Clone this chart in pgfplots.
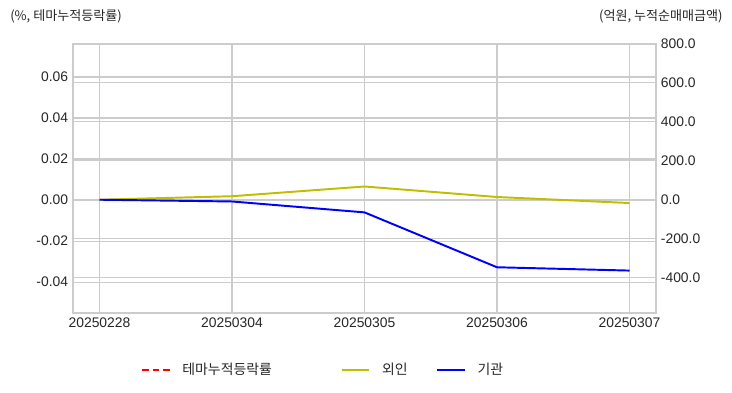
\documentclass[border=0pt]{standalone}
\usepackage{pgfplots}
\pgfplotsset{compat=1.18}
\usepackage{fontspec}
\setmainfont{Liberation Sans}
\newfontfamily\kr{Noto Sans CJK KR}
\definecolor{olivey}{RGB}{191,191,0}
\definecolor{gridc}{RGB}{204,204,204}
\definecolor{txt}{RGB}{38,38,38}
\begin{document}
\begin{tikzpicture}
\path[use as bounding box] (0pt,0pt) rectangle (527.04pt,282.24pt);
\pgfplotsset{
  base/.style={
    at={(52.56pt,56.88pt)}, anchor=south west,
    scale only axis, width=419.76pt, height=193.68pt,
    xmin=-0.2, xmax=4.2,
    axis line style={gridc, line width=1.2pt},
    major grid style={gridc, line width=0.75pt},
    tick style={draw=none},
    ticklabel style={font=\fontsize{10}{12}\selectfont, text=txt},
    /pgf/number format/assume math mode=true,
    scaled y ticks=false,
  }
}
\begin{axis}[base,
  ymin=-0.0551, ymax=0.0761,
  ytick={-0.04,-0.02,0,0.02,0.04,0.06},
  yticklabel style={/pgf/number format/.cd, fixed, fixed zerofill, precision=2},
  xtick={0,1,2,3,4},
  xticklabels={20250228,20250304,20250305,20250306,20250307},
  xmajorgrids, ymajorgrids,
  legend columns=3,
  legend style={draw=none, fill=none, at={(0.43,-0.212)}, anchor=center,
    font=\kr\fontsize{10}{12}\selectfont, text=txt,
    /tikz/column 1/.style={column sep=6.5pt},
    /tikz/column 3/.style={column sep=6.5pt},
    /tikz/column 5/.style={column sep=6.5pt},
    /tikz/column 2/.style={column sep=47.5pt},
    /tikz/column 4/.style={column sep=18.5pt}},
  legend image code/.code={\draw[#1] (0pt,0pt) -- (20pt,0pt);},
]
\addlegendimage{red, dash pattern=on 5pt off 2.5pt, line width=1.1pt}
\addlegendentry{테마누적등락률}
\addlegendimage{olivey, line width=1.4pt}
\addlegendentry{외인}
\addlegendimage{blue, line width=1.4pt}
\addlegendentry{기관}
\end{axis}
\begin{axis}[base,
  axis y line*=right, axis x line=none,
  ymin=-582, ymax=800,
  ytick={-400,-200,0,200,400,600,800},
  yticklabel style={/pgf/number format/.cd, fixed, fixed zerofill, precision=1},
  ymajorgrids,
]
\addplot[olivey, line width=1.4pt] coordinates {(0,0) (1,18) (2,68) (3,14) (4,-17)};
\addplot[blue, line width=1.4pt] coordinates {(0,0) (1,-9) (2,-65) (3,-347) (4,-364)};
\end{axis}
\node[anchor=west, inner sep=0, font=\kr\fontsize{9.4}{11}\selectfont, text=txt] at (7.2pt,270.7pt) {(\%, 테마누적등락률)};
\node[anchor=east, inner sep=0, font=\kr\fontsize{9.4}{11}\selectfont, text=txt] at (520.5pt,270.7pt) {(억원, 누적순매매금액)};
\end{tikzpicture}
\end{document}
